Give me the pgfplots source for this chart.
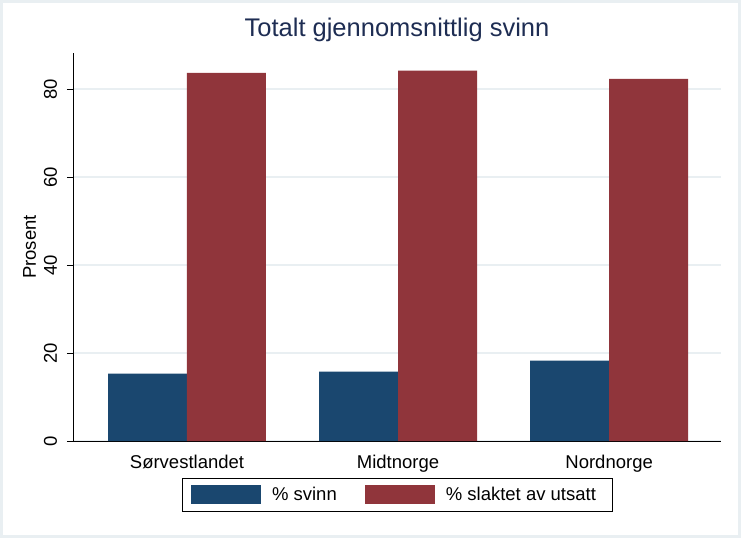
\documentclass[border=0pt]{standalone}
\usepackage{pgfplots}
\pgfplotsset{compat=1.18}
\usepackage{fontspec}
\setmainfont{Liberation Sans}
\definecolor{stnavy}{RGB}{26,71,111}
\definecolor{stmaroon}{RGB}{144,53,59}
\definecolor{stgrid}{RGB}{233,239,242}
\definecolor{sttitle}{RGB}{30,45,83}
\begin{document}
\begin{tikzpicture}
\path[use as bounding box] (-73bp,-97bp) rectangle (668bp,441bp);
\fill[white] (-73bp,-97bp) rectangle (668bp,441bp);
\draw[stgrid, line width=3bp] (-71.5bp,-95.5bp) rectangle (666.5bp,439.5bp);
\begin{axis}[
  at={(0,0)}, anchor=south west,
  scale only axis,
  width=648bp, height=388bp,
  xmin=-0.54, xmax=2.53,
  ymin=0, ymax=88.2,
  axis x line*=bottom, axis y line*=left,
  axis line style={black, line width=0.8bp, -},
  xtick={0,1,2},
  xticklabels={Sørvestlandet,Midtnorge,Nordnorge},
  x tick style={draw=none},
  major x tick style={draw=none},
  ytick={0,20,40,60,80},
  y tick style={black, line width=0.8bp},
  major tick length=6bp,
  tick align=outside,
  ymajorgrids,
  grid style={stgrid, line width=1.5bp},
  /pgf/number format/assume math mode=true,
  tick label style={font=\fontsize{18.5bp}{22bp}\selectfont},
  xticklabel style={anchor=base, yshift=-21bp},
  yticklabel style={rotate=90, anchor=base},
  yticklabel shift=10bp,
  ylabel={Prosent},
  ylabel style={at={(axis description cs:-0.0571,0.5)}, anchor=base, font=\fontsize{18.5bp}{22bp}\selectfont},
  title={Totalt gjennomsnittlig svinn},
  title style={at={(axis description cs:0.5,1)}, anchor=base, yshift=11bp, font=\fontsize{25.5bp}{30bp}\selectfont, text=sttitle},
  ybar, bar width=0.374,
  legend columns=2,
  legend image code/.code={\fill[#1] (0bp,-9.5bp) rectangle (70bp,9.5bp); \path (74bp,0bp);},
  legend style={at={(axis description cs:0.5,-0.0954)}, anchor=north, draw=black, line width=0.8bp,
    inner xsep=9bp, inner ysep=7bp,
    font=\fontsize{18.5bp}{22bp}\selectfont,
    nodes={inner xsep=7bp, inner ysep=2bp},
    /tikz/every even column/.append style={column sep=21bp}},
]
\addplot[fill=stnavy, draw=none, bar shift=-0.187] coordinates {(0,15.3) (1,15.75) (2,18.25)};
\addplot[fill=stmaroon, draw=none, bar shift=0.187] coordinates {(0,83.7) (1,84.2) (2,82.3)};
\legend{\% svinn, \% slaktet av utsatt}
\end{axis}
\end{tikzpicture}
\end{document}
